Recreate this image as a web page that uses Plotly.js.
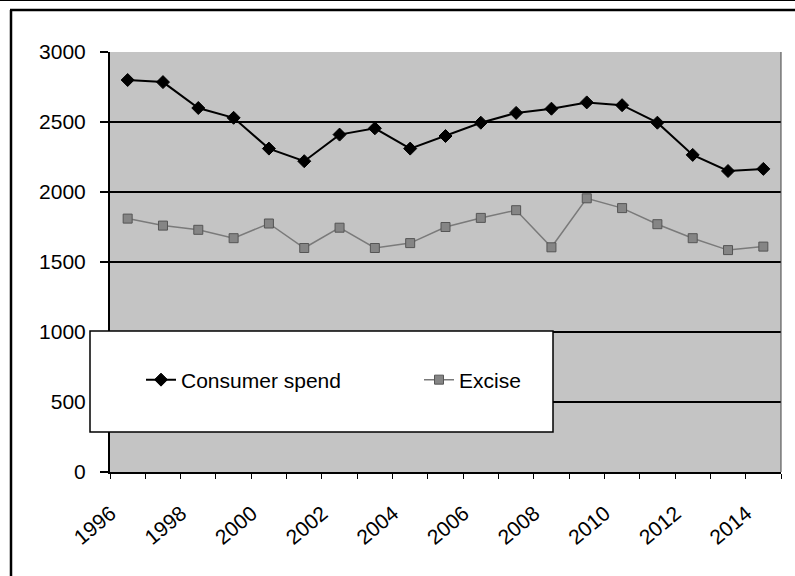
<!DOCTYPE html>
<html>
<head>
<meta charset="utf-8">
<script src="https://cdn.plot.ly/plotly-3.0.1.min.js"></script>
<style>
  html, body { margin: 0; padding: 0; background: #ffffff; }
  #chart { width: 795px; height: 576px; }
</style>
</head>
<body>
<div id="chart"></div>
<script>
// Annual series, 1996–2014
const years = [1996, 1997, 1998, 1999, 2000, 2001, 2002, 2003, 2004, 2005,
               2006, 2007, 2008, 2009, 2010, 2011, 2012, 2013, 2014];
const consumerSpend = [2800, 2785, 2600, 2530, 2310, 2220, 2410, 2455, 2310, 2400,
                       2495, 2565, 2595, 2640, 2620, 2495, 2265, 2150, 2165];
const excise = [1810, 1760, 1730, 1670, 1775, 1600, 1745, 1600, 1635, 1750,
                1815, 1870, 1605, 1955, 1885, 1770, 1670, 1585, 1610];
const yearLabels = [1996, 1998, 2000, 2002, 2004, 2006, 2008, 2010, 2012, 2014];
const yTicks = [0, 500, 1000, 1500, 2000, 2500, 3000];

const FONT = '"Liberation Sans", Arial, sans-serif';
const FS = 21;

// plot area in pixels: left 110, right 781, top 52, bottom 472
const L = 110, R = 781, T = 52, B = 472, W = 795, H = 576;
const px = x => (x - L) / (R - L);
const py = y => (B - y) / (B - T);

const traces = [
  {
    x: years, y: consumerSpend, name: 'Consumer spend', legend: 'legend',
    type: 'scatter', mode: 'lines+markers',
    line: { color: '#000000', width: 2 },
    marker: { symbol: 'diamond', size: 10, color: '#000000',
              line: { color: '#000000', width: 1 } }
  },
  {
    x: years, y: excise, name: 'Excise', legend: 'legend2',
    type: 'scatter', mode: 'lines+markers',
    line: { color: '#7a7a7a', width: 1.5 },
    marker: { symbol: 'square', size: 9, color: '#858585',
              line: { color: '#555555', width: 1 } }
  }
];

const legendStyle = (xPx) => ({
  x: px(xPx), y: py(380), xanchor: 'left', yanchor: 'middle',
  bgcolor: 'rgba(0,0,0,0)', borderwidth: 0,
  font: { family: FONT, size: FS, color: '#000000' }
});

const layout = {
  width: W, height: H,
  margin: { l: L, r: W - R, t: T, b: H - B, pad: 0 },
  paper_bgcolor: '#ffffff',
  plot_bgcolor: '#c4c4c4',
  font: { family: FONT, size: FS, color: '#000000' },
  showlegend: true,
  legend: legendStyle(141),
  legend2: legendStyle(419),
  xaxis: {
    type: 'linear',
    range: [1995.5, 2014.5],
    tickmode: 'array', tickvals: yearLabels, ticktext: yearLabels.map(String),
    ticks: '', tickangle: -40,
    ticklabelstandoff: 19, ticklabelshift: -17,
    tickfont: { family: FONT, size: FS, color: '#000000' },
    minor: { ticks: 'outside', tick0: 1995.5, dtick: 1, ticklen: 5,
             tickcolor: '#000000', tickwidth: 1, showgrid: false },
    showgrid: false, zeroline: false,
    showline: true, linecolor: '#000000', linewidth: 2, mirror: false,
    fixedrange: true
  },
  yaxis: {
    range: [0, 3000],
    tickmode: 'array', tickvals: yTicks,
    ticks: 'outside', ticklen: 8, tickcolor: '#000000', tickwidth: 1.5,
    ticklabelstandoff: 10,
    tickfont: { family: FONT, size: FS, color: '#000000' },
    showgrid: true, gridcolor: '#000000', gridwidth: 1.5,
    zeroline: false,
    showline: true, linecolor: '#000000', linewidth: 2,
    fixedrange: true
  },
  shapes: [
    // right edge of the plot area
    { type: 'line', xref: 'paper', yref: 'paper', x0: 1, x1: 1, y0: 0, y1: 1,
      line: { color: '#444444', width: 1 }, layer: 'above' },
    // legend box
    { type: 'rect', xref: 'paper', yref: 'paper',
      x0: px(90), x1: px(553), y0: py(432), y1: py(331),
      fillcolor: '#ffffff', line: { color: '#000000', width: 1.5 }, layer: 'above' },
    // chart frame
    { type: 'line', xref: 'paper', yref: 'paper', x0: px(0), x1: px(W), y0: py(0.5), y1: py(0.5),
      line: { color: '#000000', width: 1 }, layer: 'above' },
    { type: 'line', xref: 'paper', yref: 'paper', x0: px(10), x1: px(W), y0: py(10), y1: py(10),
      line: { color: '#000000', width: 2.5 }, layer: 'above' },
    { type: 'line', xref: 'paper', yref: 'paper', x0: px(11), x1: px(11), y0: py(10), y1: py(H),
      line: { color: '#000000', width: 2.5 }, layer: 'above' }
  ]
};

Plotly.newPlot('chart', traces, layout, { displayModeBar: false, staticPlot: true });
</script>
</body>
</html>
